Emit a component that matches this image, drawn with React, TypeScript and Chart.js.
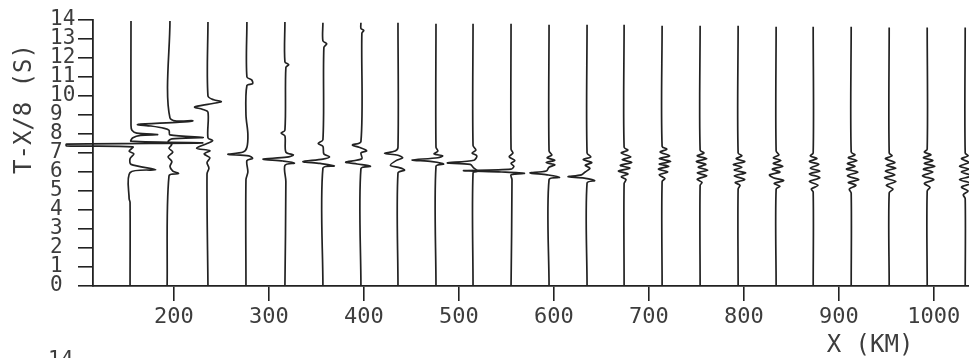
import React, { useEffect, useRef } from "react";
import { Chart, registerables } from "chart.js";

Chart.register(...registerables);

// ---- data ----
const xTickValues = [200, 300, 400, 500, 600, 700, 800, 900, 1000];
const yTickValues = [0, 1, 2, 3, 4, 5, 6, 7, 8, 9, 10, 11, 12, 13, 14];
const yTitle = "T-X/8 (S)";
const xTitle = "X (KM)";
const figNumber = "14";

// trace distances (km)
const traceKm = [155, 196, 236, 277, 317, 357, 397, 436, 476, 515, 555, 595, 635, 674, 714, 754, 794, 834, 873, 913, 953, 993, 1033];

// each trace: [T (s), deflection (km)] from top to bottom
const T1 = [[13.95, 0], [8.45, 0], [8.2, 1], [8.05, 6], [7.97, 28], [7.93, 10], [7.8, 2], [7.62, 0], [7.53, 75], [7.47, -68], [7.38, -68], [7.32, 2], [7.1, -2], [6.95, 3], [6.7, -1], [6.4, 0], [6.12, 26], [5.97, -1], [4.6, -2], [4.4, -1], [0, -1]];
const T2 = [[13.95, 0], [8.85, 0], [8.7, 24], [8.62, 10], [8.5, -34], [8.42, -20], [8.3, -6], [8.2, -1], [7.95, 0], [7.82, 35], [7.74, 2], [7.6, -2], [7.45, 2], [7.25, -1], [7.05, 3], [6.8, -2], [6.55, 2], [6.3, 0], [6.05, 3], [5.92, 9], [5.8, -1], [0, -3]];
const T3 = [[13.9, 0], [10.0, 0], [9.8, 6], [9.7, 14], [9.58, 2], [9.42, -14], [9.3, -6], [9.15, 0], [7.8, 0], [7.65, 5], [7.5, -1], [7.25, -12], [7.12, 2], [6.95, -4], [6.75, 2], [6.5, -1], [6.2, 1], [5.9, -1], [0, 0]];
const T4 = [[13.9, 0], [11.0, 0], [10.85, 5], [10.65, 6], [10.55, 0], [9.0, -1], [8.0, 1], [7.3, 0], [7.05, -4], [6.93, -20], [6.85, 2], [6.72, 6], [6.6, 0], [6.0, 1], [5.6, -1], [0, -1]];
const T5 = [[13.9, 0], [11.8, 0], [11.65, 4], [11.5, 1], [8.2, 0], [8.05, -4], [7.9, 0], [7.05, 1], [6.9, 9], [6.78, 2], [6.68, -23], [6.58, -2], [6.47, 10], [6.35, 0], [5.5, 1], [0, 0]];
const T6 = [[13.85, 0], [12.9, 0], [12.75, 4], [12.55, 1], [7.7, 0], [7.5, -5], [7.35, 0], [6.95, 1], [6.8, 7], [6.68, 0], [6.55, -21], [6.45, -3], [6.32, 12], [6.2, 0], [0, 0]];
const T7 = [[13.85, 0], [13.55, 0], [13.45, 3], [13.3, 1], [7.6, 0], [7.42, -9], [7.3, -2], [7.12, 6], [7.0, 0], [6.7, 1], [6.52, -16], [6.42, -4], [6.3, 10], [6.18, 0], [0, 0]];
const T8 = [[13.85, 0], [7.3, 0], [7.1, -3], [6.98, -14], [6.88, 0], [6.75, 5], [6.6, -2], [6.35, -8], [6.22, 2], [6.1, 7], [5.95, 0], [0, 0]];
const T9 = [[13.8, 0], [7.3, 0], [7.1, 2], [6.95, -2], [6.85, 7], [6.75, 2], [6.63, -25], [6.55, -4], [6.42, 8], [6.3, 0], [0, 0]];
const T10 = [[13.8, 0], [7.4, 0], [7.15, 3], [7.0, -1], [6.85, 4], [6.62, 1], [6.48, -27], [6.4, -3], [6.2, 1], [6.05, 5], [5.95, 0], [0, 0]];
const T11 = [[13.8, 0], [7.2, 0], [7.0, 2], [6.8, -2], [6.6, 4], [6.45, 0], [6.3, 3], [6.15, 0], [6.07, -50], [6.0, -10], [5.93, 14], [5.85, 0], [5.6, 1], [0, 0]];
const T12 = [[13.75, 0], [7.1, 0], [6.9, 3], [6.75, -2], [6.62, 6], [6.5, -3], [6.38, 6], [6.25, 0], [6.05, -3], [5.95, -20], [5.85, -2], [5.72, 11], [5.6, 0], [0, 0]];
const T13 = [[13.75, 0], [7.0, 0], [6.8, 4], [6.65, -4], [6.5, 5], [6.35, -2], [6.2, 3], [6.0, -2], [5.85, -6], [5.75, -20], [5.68, -3], [5.55, 8], [5.42, 0], [0, 0]];
const T14 = [[13.75, 0], [7.3, 0], [7.15, 4], [7.0, -3], [6.8, 7], [6.65, -2], [6.5, 8], [6.35, -4], [6.2, 6], [6.05, -6], [5.9, 4], [5.75, -3], [5.6, 2], [5.4, 0], [0, 0]];
const T15 = [[13.7, 0], [7.35, 0], [7.2, 5], [7.05, -2], [6.85, 8], [6.7, -3], [6.55, 9], [6.42, -3], [6.3, 7], [6.15, -4], [6.0, 6], [5.85, -3], [5.65, 3], [5.5, 0], [0, 0]];
const T16 = [[13.7, 0], [7.15, 0], [7.0, 4], [6.85, -3], [6.7, 7], [6.55, -4], [6.4, 6], [6.25, -2], [6.1, 8], [5.95, -3], [5.8, 7], [5.62, -3], [5.45, 2], [5.3, 0], [0, 0]];
const T17 = [[13.7, 0], [7.0, 0], [6.85, 4], [6.7, -2], [6.55, 7], [6.4, -5], [6.25, 4], [6.1, -4], [5.95, 8], [5.8, -4], [5.6, 7], [5.45, -3], [5.3, 2], [5.1, 0], [0, 0]];
const T18 = [[13.65, 0], [7.1, 0], [6.9, 3], [6.75, -3], [6.6, 5], [6.45, -3], [6.3, 7], [6.15, -4], [6.0, 4], [5.85, -7], [5.7, -3], [5.55, 8], [5.4, -2], [5.25, 4], [5.1, 0], [0, 0]];
const T19 = [[13.65, 0], [7.0, 0], [6.85, -3], [6.7, 4], [6.55, -4], [6.4, 6], [6.2, -3], [6.05, 7], [5.9, -4], [5.7, 7], [5.5, -4], [5.3, 5], [5.1, -2], [4.95, 0], [0, 0]];
const T20 = [[13.65, 0], [7.05, 0], [6.9, 4], [6.75, -3], [6.6, 6], [6.45, -4], [6.3, 4], [6.15, -5], [6.0, 7], [5.8, -4], [5.6, 8], [5.45, -3], [5.3, 5], [5.1, -2], [4.9, 0], [0, 0]];
const T21 = [[13.6, 0], [7.0, 0], [6.85, 3], [6.7, -4], [6.5, 6], [6.35, -3], [6.2, 7], [6.05, -4], [5.85, 6], [5.7, -5], [5.5, 7], [5.3, -3], [5.1, 4], [4.9, 0], [0, 0]];
const T22 = [[13.6, 0], [7.2, 0], [7.05, -3], [6.9, 4], [6.75, -4], [6.6, 6], [6.45, -3], [6.3, 8], [6.15, -4], [6.0, 6], [5.8, -5], [5.6, 7], [5.4, -3], [5.2, 3], [5.0, 0], [0, 0]];
const T23 = [[13.6, 0], [7.0, 0], [6.85, 3], [6.7, -4], [6.5, 4], [6.3, -6], [6.15, 4], [6.0, -4], [5.8, 7], [5.6, -6], [5.4, 6], [5.2, -4], [5.0, 3], [4.8, -2], [4.6, 0], [0, 0]];

const traces = [T1, T2, T3, T4, T5, T6, T7, T8, T9, T10, T11, T12, T13, T14, T15, T16, T17, T18, T19, T20, T21, T22, T23];

// ---- styles ----
const INK = "#222";
const TEXT = "#3d3d3d";
const FONT = "'DejaVu Sans Mono', monospace";

const textPlugin = {
  id: "scanText",
  afterDraw(chart: any) {
    const ctx = chart.ctx;
    ctx.save();
    ctx.fillStyle = TEXT;
    ctx.textAlign = "center";
    ctx.textBaseline = "middle";
    ctx.font = `24px ${FONT}`;
    ctx.save();
    ctx.translate(25, 109);
    ctx.rotate(-Math.PI / 2);
    ctx.fillText(yTitle, 0, 0);
    ctx.restore();
    ctx.fillText(xTitle, 870, 346);
    ctx.font = `21px ${FONT}`;
    ctx.textAlign = "left";
    ctx.textBaseline = "top";
    ctx.fillText(figNumber, 48, 350);
    ctx.restore();
  },
};

export default function App() {
  const ref = useRef<HTMLCanvasElement>(null);
  useEffect(() => {
    document.body.style.margin = "0";
    const datasets = traces.map((tr, i) => ({
      data: tr.map(([t, d]) => ({ x: traceKm[i] + d, y: t })),
      showLine: true,
      borderColor: INK,
      borderWidth: 1.7,
      pointRadius: 0,
      tension: 0.3,
      fill: false,
      clip: false as any,
    }));
    const chart = new Chart(ref.current!, {
      type: "scatter",
      data: { datasets },
      options: {
        animation: false,
        responsive: false,
        devicePixelRatio: 1,
        layout: { padding: { top: 20, left: 50, right: 0, bottom: 0 } },
        plugins: { legend: { display: false }, tooltip: { enabled: false } },
        scales: {
          x: {
            type: "linear",
            min: 115,
            max: 1037,
            afterBuildTicks: (ax: any) => {
              ax.ticks = xTickValues.map((v) => ({ value: v }));
            },
            afterFit: (s: any) => {
              s.height = 72;
            },
            grid: { drawOnChartArea: false, drawTicks: true, tickLength: 15, color: INK, lineWidth: 1.6 },
            border: { display: true, color: INK, width: 1.8 },
            ticks: {
              font: { family: FONT, size: 22 },
              color: TEXT,
              padding: 3,
              maxRotation: 0,
              autoSkip: false,
              callback: (v: any) => String(v),
            },
          },
          y: {
            type: "linear",
            min: 0,
            max: 14,
            afterBuildTicks: (ax: any) => {
              ax.ticks = yTickValues.map((v) => ({ value: v }));
            },
            afterFit: (s: any) => {
              s.width = 43;
            },
            grid: { drawOnChartArea: false, drawTicks: true, tickLength: 15, color: INK, lineWidth: 1.6 },
            border: { display: true, color: INK, width: 1.8 },
            ticks: {
              font: { family: FONT, size: 21 },
              color: TEXT,
              padding: 2,
              crossAlign: "far",
              autoSkip: false,
              callback: (v: any) => String(v),
            },
          },
        },
      },
      plugins: [textPlugin],
    } as any);
    return () => chart.destroy();
  }, []);
  return (
    <div style={{ width: 969, height: 358 }}>
      <canvas ref={ref} width={969} height={358} />
    </div>
  );
}
